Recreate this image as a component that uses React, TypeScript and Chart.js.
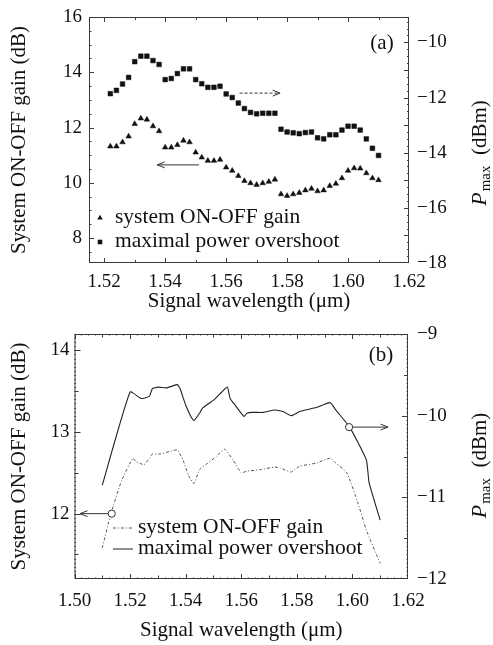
import React, { useEffect, useRef } from 'react';
import { Chart, registerables } from 'chart.js';

Chart.register(...registerables);

const FONT = '"Liberation Serif", "Times New Roman", serif';
const INK = '#111';
const AXIS = '#3a3a3a';

// ---------- Panel (a) data ----------
const wavelengthA = [
  1.522, 1.524, 1.526, 1.528, 1.530, 1.532, 1.534, 1.536, 1.538, 1.540,
  1.542, 1.544, 1.546, 1.548, 1.550, 1.552, 1.554, 1.556, 1.558, 1.560,
  1.562, 1.564, 1.566, 1.568, 1.570, 1.572, 1.574, 1.576, 1.578, 1.580,
  1.582, 1.584, 1.586, 1.588, 1.590, 1.592, 1.594, 1.596, 1.598, 1.600,
  1.602, 1.604, 1.606, 1.608, 1.610,
];
const gainA = [
  11.32, 11.32, 11.47, 11.68, 12.13, 12.33, 12.29, 12.05, 11.87, 11.28,
  11.28, 11.37, 11.53, 11.47, 11.10, 10.92, 10.80, 10.80, 10.84, 10.56,
  10.44, 10.25, 10.07, 9.99, 9.93, 9.99, 10.04, 10.12, 9.59, 9.53,
  9.59, 9.64, 9.73, 9.79, 9.70, 9.73, 9.89, 9.97, 10.17, 10.44,
  10.53, 10.52, 10.35, 10.17, 10.10,
];
const pmaxA = [
  -11.86, -11.74, -11.51, -11.27, -10.70, -10.50, -10.50, -10.66, -10.80, -11.35,
  -11.31, -11.13, -10.96, -10.96, -11.35, -11.50, -11.63, -11.63, -11.59, -11.87,
  -12.00, -12.20, -12.40, -12.54, -12.59, -12.57, -12.57, -12.57, -13.15, -13.25,
  -13.28, -13.31, -13.27, -13.25, -13.46, -13.50, -13.35, -13.35, -13.18, -13.04,
  -13.04, -13.18, -13.50, -13.84, -14.10,
];
const xTicksA = [1.52, 1.54, 1.56, 1.58, 1.60, 1.62];
const leftTicksA = [8, 10, 12, 14, 16];
const rightTicksA = [-18, -16, -14, -12, -10];

// ---------- Panel (b) data ----------
const wavelengthBP = [
  1.510, 1.520, 1.524, 1.527, 1.528, 1.530, 1.533, 1.535, 1.537, 1.538,
  1.540, 1.542, 1.543, 1.545, 1.546, 1.550, 1.553, 1.555, 1.556, 1.558,
  1.561, 1.562, 1.564, 1.568, 1.572, 1.575, 1.578, 1.581, 1.587, 1.592,
  1.594, 1.599, 1.605, 1.606, 1.610,
];
const pmaxB = [
  -10.85, -9.71, -9.79, -9.76, -9.67, -9.65, -9.66, -9.64, -9.62, -9.67,
  -9.87, -10.02, -10.06, -9.97, -9.91, -9.81, -9.71, -9.65, -9.79, -9.88,
  -10.01, -9.97, -9.96, -9.96, -9.93, -9.95, -10.00, -9.95, -9.90, -9.84,
  -9.93, -10.14, -10.54, -10.82, -11.28,
];
const wavelengthBG = [
  1.510, 1.513, 1.517, 1.521, 1.522, 1.525, 1.527, 1.528, 1.531, 1.534,
  1.537, 1.539, 1.541, 1.543, 1.545, 1.548, 1.551, 1.554, 1.557, 1.560,
  1.562, 1.567, 1.572, 1.574, 1.578, 1.581, 1.587, 1.592, 1.594, 1.598,
  1.602, 1.605, 1.610,
];
const gainB = [
  11.58, 11.99, 12.41, 12.68, 12.64, 12.60, 12.68, 12.73, 12.73, 12.76,
  12.78, 12.66, 12.47, 12.37, 12.54, 12.62, 12.70, 12.79, 12.66, 12.50,
  12.52, 12.54, 12.57, 12.56, 12.51, 12.58, 12.62, 12.68, 12.62, 12.50,
  12.13, 11.80, 11.39,
];
const xTicksB = [1.50, 1.52, 1.54, 1.56, 1.58, 1.60, 1.62];
const leftTicksB = [12, 13, 14];
const rightTicksB = [-12, -11, -10, -9];

const LEGEND = ['system ON-OFF gain', 'maximal power overshoot'];

// ---------- helpers ----------
function steps(a: number, b: number, s: number) {
  const out: number[] = [];
  const n = Math.round((b - a) / s);
  for (let i = 0; i <= n; i++) out.push(a + i * s);
  return out;
}

function drawArrow(ctx: CanvasRenderingContext2D, x1: number, y1: number, x2: number, y2: number, dashed: boolean) {
  ctx.save();
  ctx.strokeStyle = '#333';
  ctx.lineWidth = 1;
  if (dashed) ctx.setLineDash([3, 2]);
  ctx.beginPath();
  ctx.moveTo(x1, y1);
  ctx.lineTo(x2, y2);
  ctx.stroke();
  ctx.setLineDash([]);
  const ang = Math.atan2(y2 - y1, x2 - x1);
  const L = 8, a = 0.38;
  ctx.beginPath();
  ctx.moveTo(x2 - L * Math.cos(ang - a), y2 - L * Math.sin(ang - a));
  ctx.lineTo(x2, y2);
  ctx.lineTo(x2 - L * Math.cos(ang + a), y2 - L * Math.sin(ang + a));
  ctx.stroke();
  ctx.restore();
}

type TickSet = { vals: number[]; len: number }[];

function drawFrame(chart: any, xt: TickSet, lt: TickSet, rt: TickSet) {
  const { ctx, chartArea } = chart;
  const { left, right, top, bottom } = chartArea;
  const sx = chart.scales.x, sy = chart.scales.y, sy1 = chart.scales.y1;
  ctx.save();
  ctx.strokeStyle = AXIS;
  ctx.lineWidth = 1;
  ctx.strokeRect(left + 0.5, top + 0.5, right - left - 1, bottom - top - 1);
  ctx.beginPath();
  for (const t of xt) {
    for (const v of t.vals) {
      const p = Math.round(sx.getPixelForValue(v)) + 0.5;
      if (p < left || p > right) continue;
      ctx.moveTo(p, bottom);
      ctx.lineTo(p, bottom - t.len);
      ctx.moveTo(p, top);
      ctx.lineTo(p, top + t.len);
    }
  }
  for (const t of lt) {
    for (const v of t.vals) {
      const p = Math.round(sy.getPixelForValue(v)) + 0.5;
      if (p < top || p > bottom) continue;
      ctx.moveTo(left, p);
      ctx.lineTo(left + t.len, p);
    }
  }
  for (const t of rt) {
    for (const v of t.vals) {
      const p = Math.round(sy1.getPixelForValue(v)) + 0.5;
      if (p < top || p > bottom) continue;
      ctx.moveTo(right, p);
      ctx.lineTo(right - t.len, p);
    }
  }
  ctx.stroke();
  ctx.restore();
}

function drawPmaxTitle(ctx: CanvasRenderingContext2D, cx: number, cy: number) {
  ctx.save();
  ctx.translate(cx, cy);
  ctx.rotate(-Math.PI / 2);
  ctx.fillStyle = INK;
  ctx.textBaseline = 'alphabetic';
  const fIt = `italic 22px ${FONT}`;
  const fSub = `15px ${FONT}`;
  const fMain = `21px ${FONT}`;
  ctx.font = fIt;
  const wP = ctx.measureText('P').width;
  ctx.font = fSub;
  const wS = ctx.measureText('max').width;
  ctx.font = fMain;
  const wD = ctx.measureText('  (dBm)').width;
  let x = -(wP + 1 + wS + wD) / 2;
  ctx.font = fIt;
  ctx.fillText('P', x, 7);
  x += wP + 1;
  ctx.font = fSub;
  ctx.fillText('max', x, 11);
  x += wS;
  ctx.font = fMain;
  ctx.fillText('  (dBm)', x, 7);
  ctx.restore();
}

function axisFont(size: number) {
  return { family: FONT, size, weight: 'normal' as const };
}

function fixW(w: number) {
  return (s: any) => {
    s.width = w;
    s.paddingTop = 0;
    s.paddingBottom = 0;
  };
}
function fixH(h: number) {
  return (s: any) => {
    s.height = h;
    s.paddingLeft = 0;
    s.paddingRight = 0;
  };
}

function buildA(): any {
  const decor = {
    id: 'decorA',
    afterDraw(chart: any) {
      const { ctx, chartArea } = chart;
      const { left, right, top } = chartArea;
      const sx = chart.scales.x, sy = chart.scales.y, sy1 = chart.scales.y1;
      drawFrame(
        chart,
        [{ vals: steps(1.52, 1.62, 0.02), len: 5 }, { vals: steps(1.51, 1.62, 0.01), len: 3 }],
        [{ vals: steps(8, 16, 2), len: 5 }, { vals: steps(7.5, 16, 0.5), len: 2.5 }],
        [{ vals: steps(-18, -10, 1), len: 5 }, { vals: steps(-18, -9.25, 0.25), len: 2 }],
      );
      // arrows
      drawArrow(ctx, sx.getPixelForValue(1.5644), sy1.getPixelForValue(-11.84), sx.getPixelForValue(1.5777), sy1.getPixelForValue(-11.84), true);
      drawArrow(ctx, sx.getPixelForValue(1.5511), sy.getPixelForValue(10.65), sx.getPixelForValue(1.5374), sy.getPixelForValue(10.65), false);
      ctx.save();
      ctx.fillStyle = INK;
      ctx.font = `21px ${FONT}`;
      ctx.textBaseline = 'middle';
      ctx.textAlign = 'center';
      ctx.fillText('(a)', right - 27, top + 26);
      // legend
      ctx.textAlign = 'left';
      ctx.font = `21.5px ${FONT}`;
      const mx = left + 11;
      const y1 = top + 200, y2 = top + 224;
      const r = 3.2;
      ctx.beginPath();
      ctx.moveTo(mx, y1 + 1 - r);
      ctx.lineTo(mx + r * 0.866, y1 + 1 + r * 0.5);
      ctx.lineTo(mx - r * 0.866, y1 + 1 + r * 0.5);
      ctx.closePath();
      ctx.fill();
      ctx.fillRect(mx - 2.3, y2 + 1 - 2.3, 4.6, 4.6);
      ctx.fillText(LEGEND[0], left + 26, y1);
      ctx.fillText(LEGEND[1], left + 26, y2);
      ctx.restore();
      drawPmaxTitle(ctx, 479, (chartArea.top + chartArea.bottom) / 2 + 13);
    },
  };
  return {
    type: 'scatter',
    data: {
      datasets: [
        {
          label: LEGEND[0],
          data: wavelengthA.map((x, i) => ({ x, y: gainA[i] })),
          yAxisID: 'y',
          pointStyle: 'triangle',
          pointRadius: 3.2,
          pointBackgroundColor: INK,
          pointBorderColor: INK,
          pointBorderWidth: 0.5,
        },
        {
          label: LEGEND[1],
          data: wavelengthA.map((x, i) => ({ x, y: pmaxA[i] })),
          yAxisID: 'y1',
          pointStyle: 'rect',
          pointRadius: 3.3,
          pointBackgroundColor: INK,
          pointBorderColor: INK,
          pointBorderWidth: 0.5,
        },
      ],
    },
    options: {
      responsive: false,
      animation: false,
      events: [],
      layout: { padding: { top: 17, bottom: 0, left: 0, right: 0 } },
      plugins: { legend: { display: false }, tooltip: { enabled: false } },
      scales: {
        x: {
          type: 'linear',
          position: 'bottom',
          min: 1.515,
          max: 1.62,
          grid: { display: false, drawTicks: false },
          border: { display: false },
          ticks: { font: axisFont(19), color: INK, padding: 8, autoSkip: false, maxRotation: 0, callback: (v: any) => Number(v).toFixed(2) },
          afterBuildTicks: (s: any) => { s.ticks = xTicksA.map((v) => ({ value: v })); },
          afterFit: fixH(59),
          title: { display: true, text: 'Signal wavelength (\u03bcm)', font: axisFont(21), color: INK, padding: { top: 0, bottom: 8 } },
        },
        y: {
          type: 'linear',
          position: 'left',
          min: 7.1,
          max: 16,
          grid: { display: false, drawTicks: false },
          border: { display: false },
          ticks: { font: axisFont(19), color: INK, padding: 7, autoSkip: false, callback: (v: any) => String(v) },
          afterBuildTicks: (s: any) => { s.ticks = leftTicksA.map((v) => ({ value: v })); },
          afterFit: fixW(89),
          title: { display: true, text: 'System ON-OFF gain (dB)', font: axisFont(21), color: INK, padding: { top: 7, bottom: 0 } },
        },
        y1: {
          type: 'linear',
          position: 'right',
          min: -18,
          max: -9.08,
          grid: { display: false, drawTicks: false },
          border: { display: false },
          ticks: { font: axisFont(19), color: INK, padding: 8, autoSkip: false, callback: (v: any) => '\u2212' + Math.abs(Number(v)) },
          afterBuildTicks: (s: any) => { s.ticks = rightTicksA.map((v) => ({ value: v })); },
          afterFit: fixW(84),
        },
      },
    },
    plugins: [decor],
  };
}

function buildB(): any {
  const decor = {
    id: 'decorB',
    afterDraw(chart: any) {
      const { ctx, chartArea } = chart;
      const { left, right, top } = chartArea;
      const sx = chart.scales.x, sy = chart.scales.y, sy1 = chart.scales.y1;
      drawFrame(
        chart,
        [{ vals: steps(1.50, 1.62, 0.02), len: 5 }, { vals: steps(1.50, 1.62, 0.01), len: 3.5 }, { vals: steps(1.50, 1.62, 0.0025), len: 1.5 }],
        [{ vals: steps(12, 14, 1), len: 6 }, { vals: steps(11.5, 14, 0.5), len: 4 }, { vals: steps(11.2, 14.2, 0.05), len: 1.5 }],
        [{ vals: steps(-12, -9, 1), len: 6 }, { vals: steps(-12, -9, 0.5), len: 4 }, { vals: steps(-12, -9, 0.05), len: 1.5 }],
      );
      // annotations: circles + arrows
      const cLx = sx.getPixelForValue(1.5134), cLy = sy.getPixelForValue(12);
      const cRx = sx.getPixelForValue(1.5988), cRy = sy1.getPixelForValue(-10.14);
      drawArrow(ctx, cLx - 3.5, cLy, sx.getPixelForValue(1.502), cLy, false);
      drawArrow(ctx, cRx + 3.5, cRy, sx.getPixelForValue(1.6128), cRy, false);
      ctx.save();
      ctx.strokeStyle = '#333';
      ctx.fillStyle = '#fff';
      ctx.lineWidth = 1;
      for (const [cx, cy] of [[cLx, cLy], [cRx, cRy]]) {
        ctx.beginPath();
        ctx.arc(cx, cy, 3.6, 0, Math.PI * 2);
        ctx.fill();
        ctx.stroke();
      }
      ctx.restore();
      ctx.save();
      ctx.fillStyle = INK;
      ctx.font = `21px ${FONT}`;
      ctx.textBaseline = 'middle';
      ctx.textAlign = 'center';
      ctx.fillText('(b)', right - 27, top + 21);
      // legend
      ctx.textAlign = 'left';
      ctx.font = `21.5px ${FONT}`;
      const y1 = top + 193, y2 = top + 214;
      const lx1 = left + 38.5, lx2 = left + 58.5;
      ctx.strokeStyle = '#555';
      ctx.lineWidth = 1;
      ctx.setLineDash([3, 2, 1, 2]);
      ctx.beginPath();
      ctx.moveTo(lx1, y1 + 1);
      ctx.lineTo(lx2, y1 + 1);
      ctx.stroke();
      ctx.setLineDash([]);
      ctx.strokeStyle = '#222';
      ctx.beginPath();
      ctx.moveTo(lx1, y2 + 1);
      ctx.lineTo(lx2, y2 + 1);
      ctx.stroke();
      ctx.fillText(LEGEND[0], left + 63.5, y1);
      ctx.fillText(LEGEND[1], left + 63.5, y2);
      ctx.restore();
      drawPmaxTitle(ctx, 479, (chartArea.top + chartArea.bottom) / 2 + 9);
    },
  };
  return {
    type: 'scatter',
    data: {
      datasets: [
        {
          label: LEGEND[0],
          data: wavelengthBG.map((x, i) => ({ x, y: gainB[i] })),
          yAxisID: 'y',
          showLine: true,
          pointRadius: 0,
          borderColor: '#555',
          borderWidth: 1,
          borderDash: [3, 2, 1, 2],
          tension: 0.15,
        },
        {
          label: LEGEND[1],
          data: wavelengthBP.map((x, i) => ({ x, y: pmaxB[i] })),
          yAxisID: 'y1',
          showLine: true,
          pointRadius: 0,
          borderColor: '#222',
          borderWidth: 1.1,
          tension: 0.15,
        },
      ],
    },
    options: {
      responsive: false,
      animation: false,
      events: [],
      layout: { padding: { top: 12, bottom: 0, left: 0, right: 0 } },
      plugins: { legend: { display: false }, tooltip: { enabled: false } },
      scales: {
        x: {
          type: 'linear',
          position: 'bottom',
          min: 1.50,
          max: 1.62,
          grid: { display: false, drawTicks: false },
          border: { display: false },
          ticks: { font: axisFont(19), color: INK, padding: 11, autoSkip: false, maxRotation: 0, callback: (v: any) => Number(v).toFixed(2) },
          afterBuildTicks: (s: any) => { s.ticks = xTicksB.map((v) => ({ value: v })); },
          afterFit: fixH(66),
          title: { display: true, text: 'Signal wavelength (\u03bcm)', font: axisFont(21), color: INK, padding: { top: 0, bottom: 2 } },
        },
        y: {
          type: 'linear',
          position: 'left',
          min: 11.2,
          max: 14.2,
          grid: { display: false, drawTicks: false },
          border: { display: false },
          ticks: { font: axisFont(19), color: INK, padding: 5, autoSkip: false, callback: (v: any) => String(v) },
          afterBuildTicks: (s: any) => { s.ticks = leftTicksB.map((v) => ({ value: v })); },
          afterFit: fixW(74.5),
          title: { display: true, text: 'System ON-OFF gain (dB)', font: axisFont(21), color: INK, padding: { top: 7, bottom: 0 } },
        },
        y1: {
          type: 'linear',
          position: 'right',
          min: -12,
          max: -9,
          grid: { display: false, drawTicks: false },
          border: { display: false },
          ticks: { font: axisFont(19), color: INK, padding: 9, autoSkip: false, callback: (v: any) => '\u2212' + Math.abs(Number(v)) },
          afterBuildTicks: (s: any) => { s.ticks = rightTicksB.map((v) => ({ value: v })); },
          afterFit: fixW(85),
        },
      },
    },
    plugins: [decor],
  };
}

function Panel({ build, top, height }: { build: () => any; top: number; height: number }) {
  const ref = useRef<HTMLCanvasElement | null>(null);
  useEffect(() => {
    if (!ref.current) return;
    const chart = new Chart(ref.current, build());
    return () => chart.destroy();
  }, [build]);
  return (
    <canvas
      ref={ref}
      width={493}
      height={height}
      style={{ position: 'absolute', left: 0, top, width: 493, height, display: 'block' }}
    />
  );
}

export default function App() {
  return (
    <div style={{ position: 'fixed', left: 0, top: 0, width: 493, height: 645, background: '#fff', overflow: 'hidden' }}>
      <Panel build={buildA} top={0} height={322} />
      <Panel build={buildB} top={322} height={323} />
    </div>
  );
}
